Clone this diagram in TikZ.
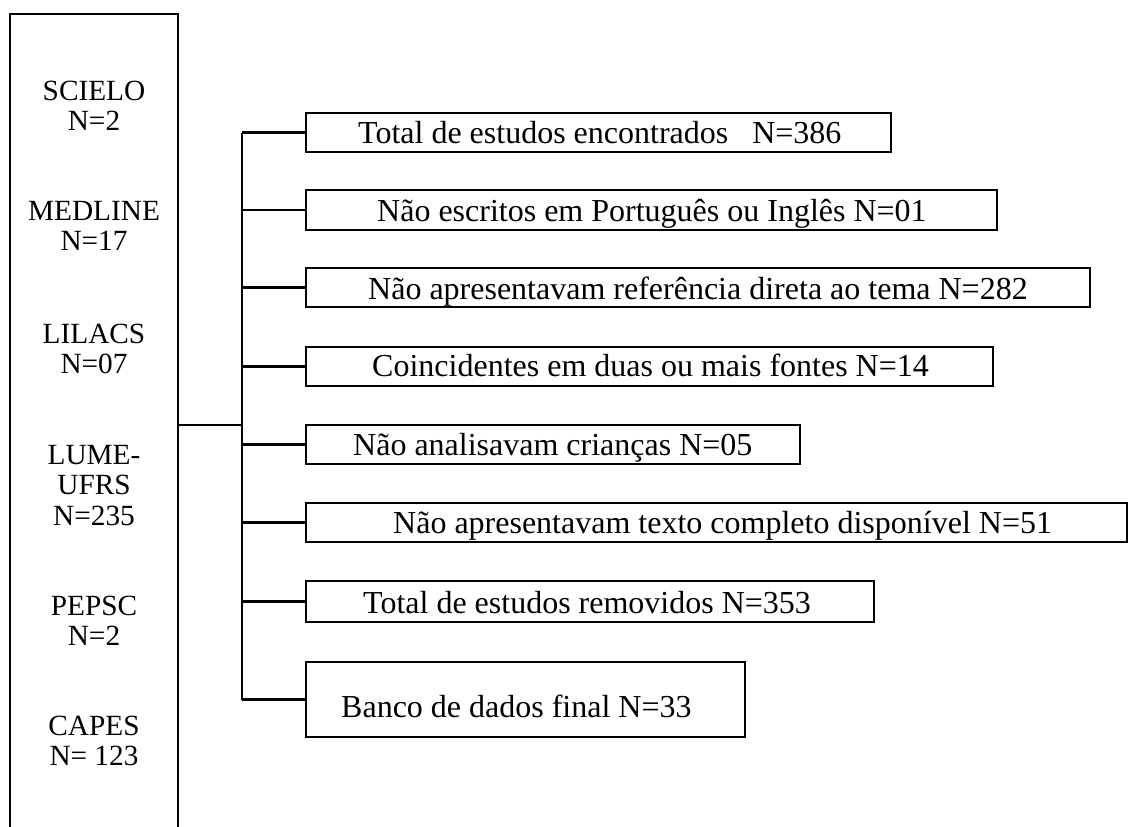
\documentclass[tikz,border=0pt]{standalone}
\usepackage{fontspec}
\setmainfont{Liberation Serif}
\begin{document}
\begin{tikzpicture}[x=1pt,y=-1pt,
  frame/.style={draw=black,line width=2.4pt,inner sep=0pt,outer sep=0pt,anchor=north west},
  conn/.style={draw=black,line width=2.8pt},
  srctxt/.style={inner sep=0pt,anchor=base,font=\fontsize{29.3}{30.5}\selectfont},
  boxtxt/.style={inner sep=0pt,anchor=base west,font=\fontsize{32}{36}\selectfont}]
\useasboundingbox (0,0) rectangle (1128,827);
\begin{scope}
\clip (0,0) rectangle (1128,827);
% source box (open at the bottom of the picture)
\node[frame,minimum width=168pt,minimum height=840pt] (src) at (10,14) {};
% source texts
\node[srctxt] (scielo) at (94,100) {\begin{tabular}[t]{@{}c@{}}SCIELO\\N=2\end{tabular}};
\node[srctxt] (medline) at (94,220) {\begin{tabular}[t]{@{}c@{}}MEDLINE\\N=17\end{tabular}};
\node[srctxt] (lilacs) at (94,343) {\begin{tabular}[t]{@{}c@{}}LILACS\\N=07\end{tabular}};
\node[srctxt] (lume) at (94,464) {\begin{tabular}[t]{@{}c@{}}LUME-\\UFRS\\N=235\end{tabular}};
\node[srctxt] (pepsc) at (94,615) {\begin{tabular}[t]{@{}c@{}}PEPSC\\N=2\end{tabular}};
\node[srctxt] (capes) at (94,735) {\begin{tabular}[t]{@{}c@{}}CAPES\\N= 123\end{tabular}};
% result boxes
\node[frame,minimum width=585pt,minimum height=39pt] (b1) at (306,113) {};
\node[frame,minimum width=691pt,minimum height=40pt] (b2) at (306,190) {};
\node[frame,minimum width=784pt,minimum height=39pt] (b3) at (306,268) {};
\node[frame,minimum width=687pt,minimum height=39pt] (b4) at (306,347) {};
\node[frame,minimum width=494pt,minimum height=39pt] (b5) at (306,425) {};
\node[frame,minimum width=821pt,minimum height=39pt] (b6) at (306,503) {};
\node[frame,minimum width=568pt,minimum height=41pt] (b7) at (306,581) {};
\node[frame,minimum width=439pt,minimum height=75pt] (b8) at (306,662) {};
% result texts
\node[boxtxt] (t1) at (358,143) {Total de estudos encontrados\ \ \ N=386};
\node[boxtxt] (t2) at (377,221.5) {Não escritos em Português ou Inglês N=01};
\node[boxtxt] (t3) at (368,299) {Não apresentavam referência direta ao tema N=282};
\node[boxtxt] (t4) at (372,376.5) {Coincidentes em duas ou mais fontes N=14};
\node[boxtxt] (t5) at (353,455) {Não analisavam crianças N=05};
\node[boxtxt] (t6) at (393,533) {Não apresentavam texto completo disponível N=51};
\node[boxtxt] (t7) at (363,613) {Total de estudos removidos N=353};
\node[boxtxt] (t8) at (341,717) {Banco de dados final N=33};
% connectors
\coordinate (j) at (242,425);
\coordinate (top) at (242,132.5);
\coordinate (bot) at (242,699.5);
\draw[conn] (src.east |- j) -- (j);
\draw[conn] (top) -- (bot);
\foreach \b in {b1,b2,b3,b4,b5,b6,b7,b8}{
  \draw[conn] (top |- \b.west) -- (\b.west);
}
\end{scope}
\end{tikzpicture}
\end{document}
